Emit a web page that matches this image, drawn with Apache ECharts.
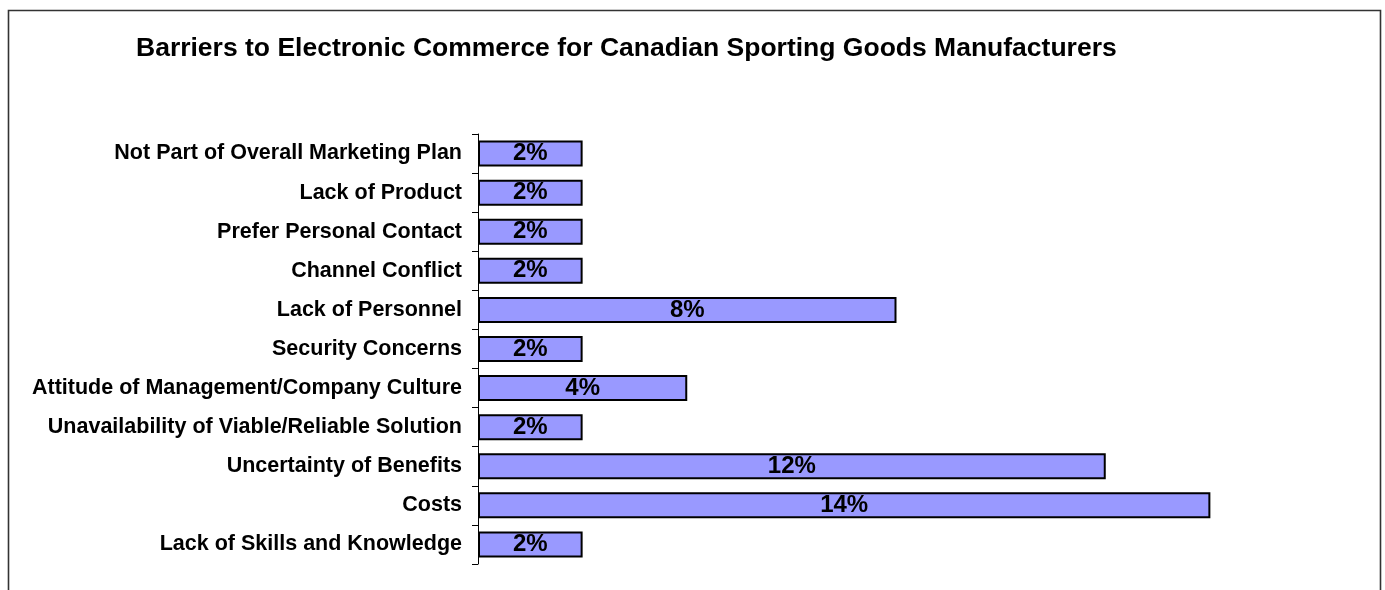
<!DOCTYPE html>
<html>
<head>
<meta charset="utf-8">
<script src="https://cdn.jsdelivr.net/npm/echarts@6/dist/echarts.min.js"></script>
<style>
  html, body { margin: 0; padding: 0; background: #fff; }
  #chart { width: 1385px; height: 590px; }
</style>
</head>
<body>
<div id="chart"></div>
<script>
// Barrier categories, listed top to bottom
const categories = [
  'Not Part of Overall Marketing Plan',
  'Lack of Product',
  'Prefer Personal Contact',
  'Channel Conflict',
  'Lack of Personnel',
  'Security Concerns',
  'Attitude of Management/Company Culture',
  'Unavailability of Viable/Reliable Solution',
  'Uncertainty of Benefits',
  'Costs',
  'Lack of Skills and Knowledge'
];
// Share of respondents citing each barrier (%)
const shares = [2, 2, 2, 2, 8, 2, 4, 2, 12, 14, 2];

const titleText = 'Barriers to Electronic Commerce for Canadian Sporting Goods Manufacturers';
const FONT = '"Liberation Sans", Arial, sans-serif';

const chart = echarts.init(document.getElementById('chart'), null, { renderer: 'canvas' });
chart.setOption({
  animation: false,
  backgroundColor: '#ffffff',
  title: {
    text: titleText,
    left: 136,
    top: 35,
    padding: 0,
    textStyle: { fontFamily: FONT, fontSize: 26.5, fontWeight: 'bold', color: '#000' }
  },
  graphic: [{
    type: 'rect',
    shape: { x: 8.5, y: 10.5, width: 1372, height: 700 },
    style: { fill: 'none', stroke: '#333', lineWidth: 1.6 },
    silent: true
  }],
  grid: { left: 478, right: 70, top: 134, bottom: 26 },
  xAxis: {
    type: 'value', min: 0, max: 16, show: false
  },
  yAxis: {
    type: 'category',
    data: categories,
    inverse: true,
    axisLine: { show: true, lineStyle: { color: '#000', width: 1 } },
    axisTick: { show: true, length: 6, lineStyle: { color: '#000' } },
    axisLabel: { fontFamily: FONT, fontSize: 21.5, fontWeight: 'bold', color: '#000', margin: 16 },
    splitLine: { show: false }
  },
  series: [{
    type: 'bar',
    data: shares,
    barWidth: 26,
    itemStyle: { color: '#9999FF', borderColor: '#000', borderWidth: 2 },
    label: {
      show: true,
      position: 'inside',
      formatter: '{c}%',
      fontFamily: FONT, fontSize: 24, fontWeight: 'bold', color: '#000'
    }
  }]
});
</script>
</body>
</html>
